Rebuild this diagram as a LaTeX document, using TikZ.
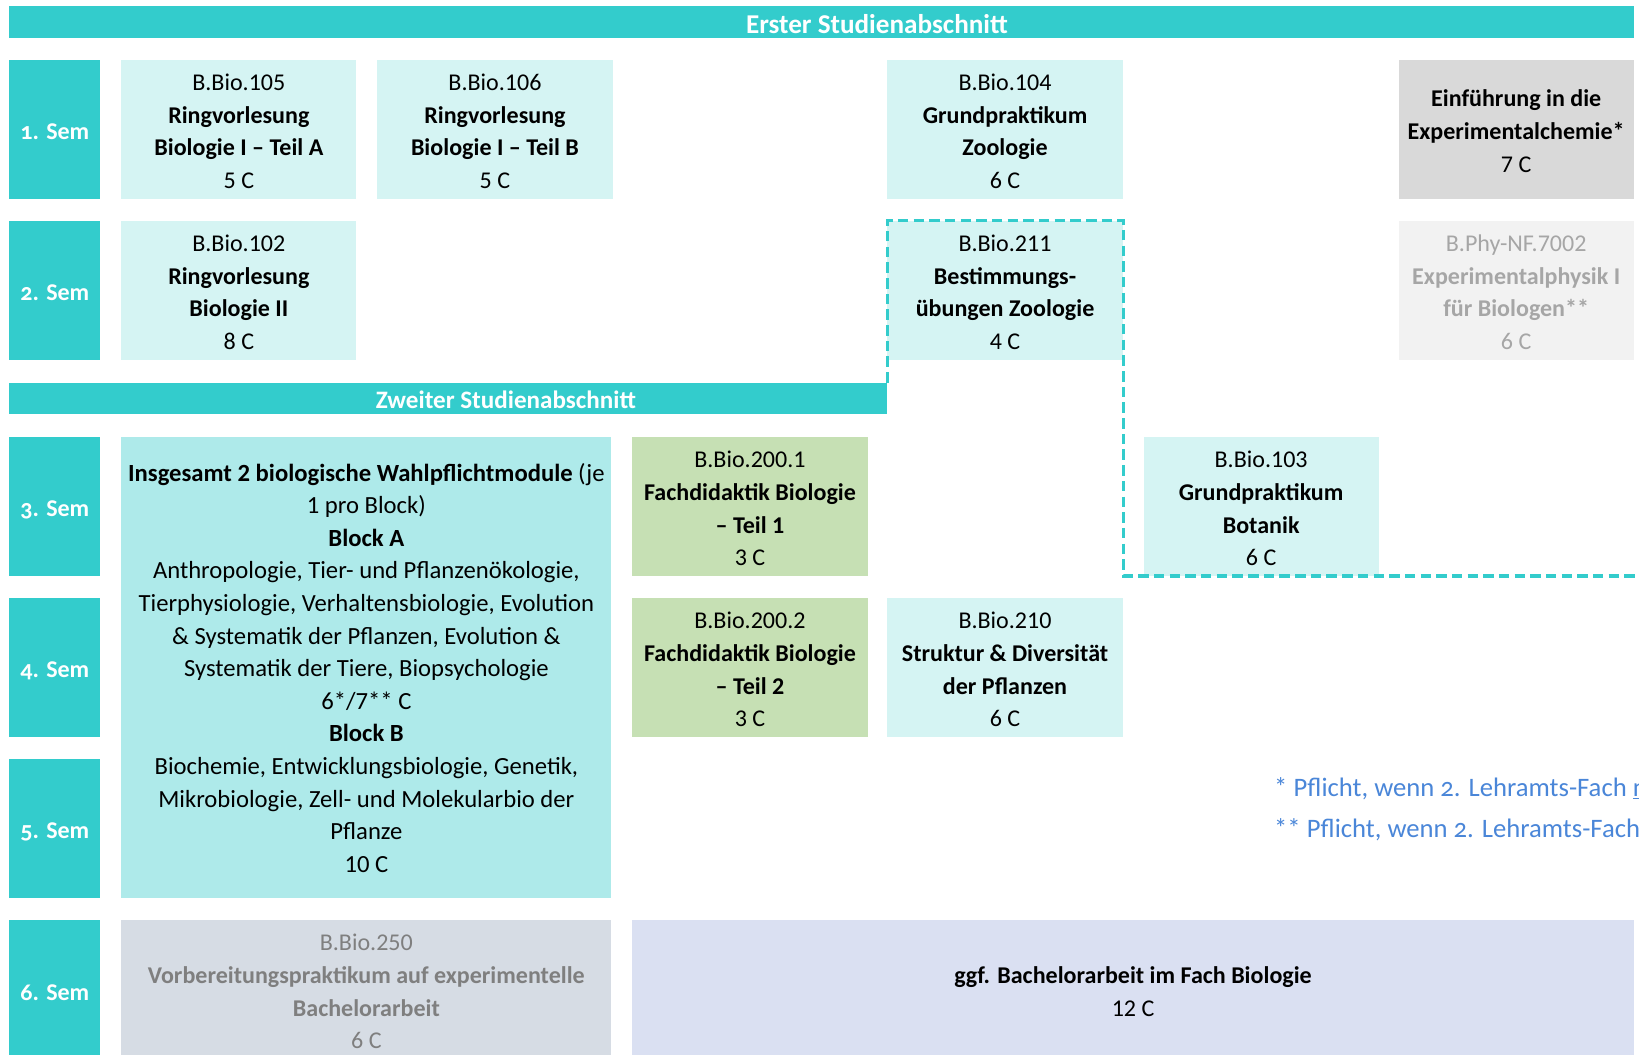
\documentclass[tikz,border=0pt]{standalone}
\usepackage{fontspec}
\setmainfont{Carlito}
\newfontfamily\oldnum{Carlito}[Numbers=OldStyle]
\newcommand\tst{\rule{0pt}{20pt}}
\definecolor{teal1}{HTML}{33CCCC}
\definecolor{lteal}{HTML}{D5F4F3}
\definecolor{mteal}{HTML}{AEEAEA}
\definecolor{lgreen}{HTML}{C6E0B4}
\definecolor{gbox}{HTML}{D9D9D9}
\definecolor{pbox}{HTML}{F2F2F2}
\definecolor{ptext}{HTML}{A6A6A6}
\definecolor{bbox}{HTML}{D6DCE4}
\definecolor{btext}{HTML}{7F7F7F}
\definecolor{lav}{HTML}{DAE0F2}
\definecolor{fnblue}{HTML}{4A86D8}
\begin{document}
\begin{tikzpicture}[x=1pt,y=-1pt,
  every node/.style={inner sep=0pt, outer sep=0pt},
  banner/.style={fill=teal1, anchor=north west, minimum height=30.5pt},
  bantext/.style={text=white, font=\bfseries},
  sem/.style={fill=teal1, text=white, font=\oldnum\fontsize{23}{28}\selectfont\bfseries, anchor=north west, minimum width=87pt, minimum height=133pt, execute at begin node={\rule{0pt}{21pt}}},
  mod/.style={fill=lteal, align=center, anchor=north west, minimum width=225pt, minimum height=133pt, font=\fontsize{23}{31.2}\selectfont},
  fn/.style={text=fnblue, anchor=west, font=\oldnum\fontsize{25.5}{30}\selectfont},
  hl/.style={draw=teal1, line width=3pt, dash pattern=on 10pt off 5pt}
]
\useasboundingbox (0,0) rectangle (1568,1009);
\begin{scope}
\clip (0,0) rectangle (1568,1009);
% banners
\node[banner, minimum width=1554pt] (erst) at (9,6) {};
\node[bantext, font=\fontsize{26}{30}\selectfont\bfseries] (erstT) at ([xshift=53pt,yshift=-1.5pt]erst.center) {Erster Studienabschnitt};
\node[banner, minimum width=840pt] (zweit) at (9,366) {};
\node[bantext, font=\fontsize{24}{28}\selectfont\bfseries] (zweitT) at ([xshift=55pt,yshift=-1.5pt]zweit.center) {Zweiter Studienabschnitt};
% semester labels
\node[sem] (s1) at (9,57) {1. Sem};
\node[sem] (s2) at (9,211) {2. Sem};
\node[sem] (s3) at (9,418) {3. Sem};
\node[sem] (s4) at (9,572) {4. Sem};
\node[sem] (s5) at (9,726) {5. Sem};
\node[sem] (s6) at (9,880) {6. Sem};
% row 1
\node[mod] (b105) at (116,57) {\tst B.Bio.105\\\textbf{Ringvorlesung}\\\textbf{Biologie I – Teil A}\\5 C};
\node[mod] (b106) at (361,57) {\tst B.Bio.106\\\textbf{Ringvorlesung}\\\textbf{Biologie I – Teil B}\\5 C};
\node[mod] (b104) at (849,57) {\tst B.Bio.104\\\textbf{Grundpraktikum}\\\textbf{Zoologie}\\6 C};
\node[mod, fill=gbox] (chem) at (1338,57) {\tst\textbf{Einführung in die}\\\textbf{Experimentalchemie*}\\7 C};
% row 2
\node[mod] (b102) at (116,211) {\tst B.Bio.102\\\textbf{Ringvorlesung}\\\textbf{Biologie II}\\8 C};
\node[mod] (b211) at (849,211) {\tst B.Bio.211\\\textbf{Bestimmungs-}\\\textbf{übungen Zoologie}\\4 C};
\node[mod, fill=pbox, text=ptext] (phy) at (1338,211) {\tst B.Phy-NF.7002\\\textbf{Experimentalphysik I}\\\textbf{für Biologen**}\\6 C};
% rows 3-5
\node[mod, fill=mteal, minimum width=469pt, minimum height=441pt, font=\fontsize{23.6}{31.2}\selectfont] (wpm) at (116,418) {\rule{0pt}{18pt}\textbf{Insgesamt 2 biologische Wahlpflichtmodule} (je\\1 pro Block)\\\textbf{Block A}\\Anthropologie, Tier- und Pflanzenökologie,\\Tierphysiologie, Verhaltensbiologie, Evolution\\\& Systematik der Pflanzen, Evolution \&\\Systematik der Tiere, Biopsychologie\\6*/7** C\\\textbf{Block B}\\Biochemie, Entwicklungsbiologie, Genetik,\\Mikrobiologie, Zell- und Molekularbio der\\Pflanze\\10 C};
\node[mod, fill=lgreen] (fd1) at (605,418) {\tst B.Bio.200.1\\\textbf{Fachdidaktik Biologie}\\\textbf{– Teil 1}\\3 C};
\node[mod] (b103) at (1094,418) {\tst B.Bio.103\\\textbf{Grundpraktikum}\\\textbf{Botanik}\\6 C};
\node[mod, fill=lgreen] (fd2) at (605,572) {\tst B.Bio.200.2\\\textbf{Fachdidaktik Biologie}\\\textbf{– Teil 2}\\3 C};
\node[mod] (b210) at (849,572) {\tst B.Bio.210\\\textbf{Struktur \& Diversität}\\\textbf{der Pflanzen}\\6 C};
% row 6
\node[mod, fill=bbox, text=btext, minimum width=469pt] (b250) at (116,880) {\tst B.Bio.250\\\textbf{Vorbereitungspraktikum auf experimentelle}\\\textbf{Bachelorarbeit}\\6 C};
\node[mod, fill=lav, minimum width=958pt] (ba) at (605,880) {\tst\textbf{ggf. Bachelorarbeit im Fach Biologie}\\12 C};
% footnotes
\node[fn] (fn1) at (1219,755) {* Pflicht, wenn 2. Lehramts-Fach \underline{n}};
\node[fn] (fn2) at (1219,794) {** Pflicht, wenn 2. Lehramts-Fach};
% dashed highlight
\coordinate (rEdge) at (1570,551);
\draw[hl] (b211.north west |- zweit.north) -- (b211.north west) -- ([xshift=1pt]b211.north east) -- ([xshift=1pt]b211.north east |- b103.south) -- (rEdge |- b103.south);
\end{scope}
\end{tikzpicture}
\end{document}
